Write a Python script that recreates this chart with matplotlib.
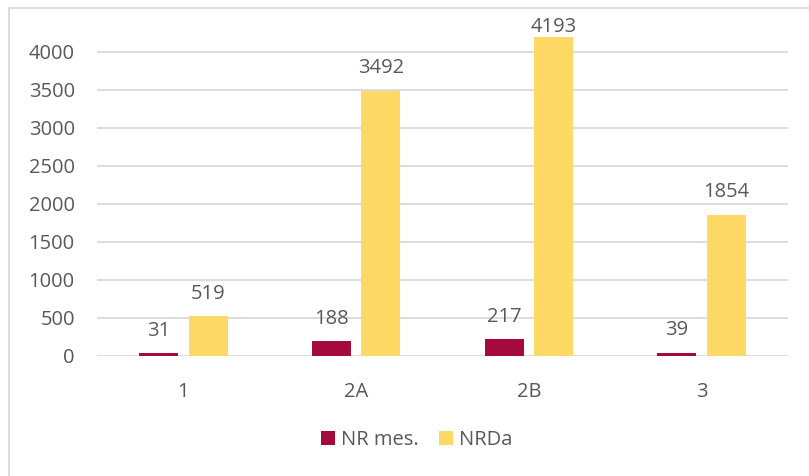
import matplotlib
matplotlib.use("Agg")
import matplotlib.pyplot as plt
from matplotlib.lines import Line2D
import numpy as np

categories = ["1", "2A", "2B", "3"]
nr_mes = [31, 188, 217, 39]
nrda = [519, 3492, 4193, 1854]
series_names = ["NR mes.", "NRDa"]
yticks = [0, 500, 1000, 1500, 2000, 2500, 3000, 3500, 4000]

RED = "#A50A3C"
YEL = "#FFD966"
TXT = "#595959"
GRID = "#D9D9D9"

plt.rcParams["font.family"] = ["Open Sans", "DejaVu Sans"]
fs = 14.5

fig = plt.figure(figsize=(8.09, 4.76), dpi=100)
W, H = 809, 476
ax_left, ax_right = 97 / W, 788 / W
ax_bottom = (H - 355.7) / H
ax_top = 1 - 14 / H
ax = fig.add_axes([ax_left, ax_bottom, ax_right - ax_left, ax_top - ax_bottom])

x = np.arange(len(categories))
w = 0.225
off = 0.143
b1 = ax.bar(x - off, nr_mes, width=w, color=RED, zorder=3)
b2 = ax.bar(x + off, nrda, width=w, color=YEL, zorder=3)

ymax = 4500
ax.set_ylim(0, ymax)
ax.set_xlim(-0.5, len(categories) - 0.5)
ax.set_yticks(yticks)
ax.set_yticklabels([str(t) for t in yticks])
ax.set_xticks(x)
ax.set_xticklabels(categories)
ax.tick_params(axis="both", length=0, labelsize=fs, labelcolor=TXT)
ax.tick_params(axis="y", pad=16)
ax.tick_params(axis="x", pad=19)
for s in ax.spines.values():
    s.set_visible(False)
ax.yaxis.grid(True, color=GRID, linewidth=1.3, zorder=0)
ax.set_axisbelow(True)

# data labels
px_per_unit = (ax_top - ax_bottom) * H / ymax
for bars, vals in ((b1, nr_mes), (b2, nrda)):
    for rect, v in zip(bars, vals):
        cx = rect.get_x() + rect.get_width() / 2
        top_px_needed = v * px_per_unit + 13 + 21
        if top_px_needed > (ax_top - ax_bottom) * H:
            ax.annotate(str(v), xy=(cx, ymax), xytext=(0, -2), textcoords="offset points",
                        ha="center", va="top", fontsize=fs, color=TXT)
        else:
            ax.annotate(str(v), xy=(cx, v), xytext=(0, 9), textcoords="offset points",
                        ha="center", va="bottom", fontsize=fs, color=TXT)

# legend
leg = fig.legend([b1, b2], series_names, loc="center", bbox_to_anchor=(417 / W, 1 - 440 / H),
                 ncol=2, frameon=False, fontsize=fs, handlelength=0.7, handleheight=0.7,
                 handletextpad=0.3, columnspacing=1.0, borderpad=0, labelcolor=TXT)

# chart frame border
fig.add_artist(Line2D([8.5 / W, 8.5 / W], [0, 1 - 7.5 / H], color=GRID, lw=1.3, transform=fig.transFigure))
fig.add_artist(Line2D([8.5 / W, 1], [1 - 7.5 / H, 1 - 7.5 / H], color=GRID, lw=1.3, transform=fig.transFigure))

fig.savefig("out.png", dpi=100)
